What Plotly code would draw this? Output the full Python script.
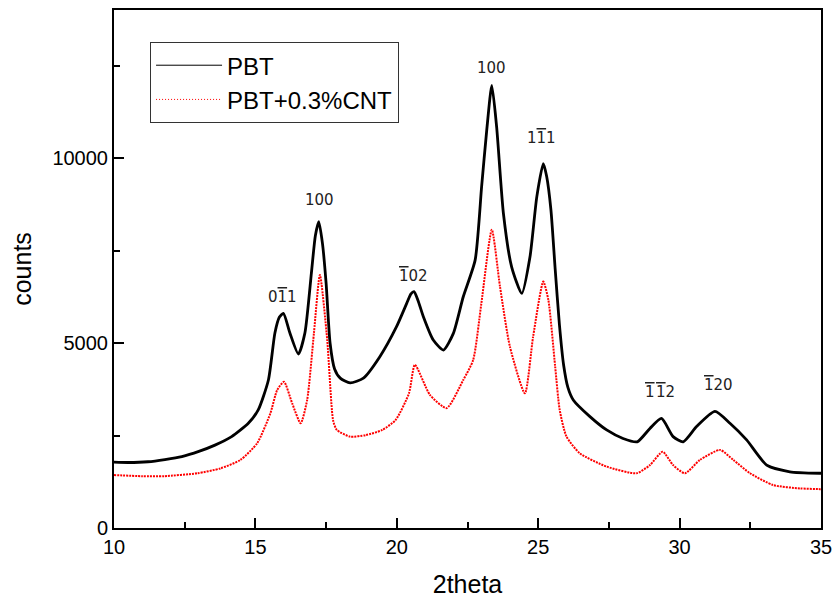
import plotly.graph_objects as go

# X-ray diffraction scans (2theta in degrees, intensity in counts)
pbt_2theta = [10.0, 10.5, 11.2, 11.8, 12.4, 13.0, 13.57, 14.16, 14.75, 15.1, 15.46, 15.69,
              15.85, 15.99, 16.22, 16.52, 16.75, 16.98, 17.12, 17.24, 17.37, 17.5, 17.64,
              17.8, 18.0, 18.35, 18.82, 19.4, 19.99, 20.35, 20.5, 20.61, 20.75, 20.94,
              21.29, 21.65, 22.0, 22.35, 22.77, 23.0, 23.18, 23.36, 23.53, 23.77, 24.06,
              24.42, 24.71, 24.95, 25.18, 25.3, 25.45, 25.6, 25.75, 25.9, 26.05, 26.24,
              26.83, 27.42, 28.0, 28.5, 28.95, 29.36, 29.77, 30.13, 30.6, 31.25, 31.78,
              32.37, 33.08, 33.9, 34.96, 35.0]
pbt_counts = [1780, 1770, 1790, 1850, 1930, 2070, 2240, 2470, 2830, 3190, 4000, 5270,
              5700, 5800, 5270, 4700, 5270, 6890, 7900, 8280, 7700, 6620, 5000,
              4300, 4050, 3920, 4050, 4630, 5440, 6070, 6330, 6390, 6150, 5710,
              5080, 4810, 5260, 6250, 7240, 9230, 10750, 11960, 10840, 8500, 7060,
              6340, 7330, 8950, 9850, 9500, 8600, 7000, 5500, 4400, 3800, 3460,
              3010, 2650, 2420, 2330, 2690, 2960, 2470, 2330, 2740, 3150, 2830,
              2380, 1700, 1520, 1480, 1480]

cnt_2theta = [10.0, 11.0, 11.77, 12.95, 13.76, 14.47, 15.06, 15.53, 15.77, 16.01, 16.3,
              16.6, 16.83, 17.07, 17.28, 17.54, 17.75, 17.88, 18.35, 18.9, 19.49, 19.96,
              20.43, 20.64, 21.17, 21.76, 22.35, 22.7, 22.99, 23.36, 23.65, 24.0, 24.53,
              24.82, 25.18, 25.36, 25.6, 25.76, 26.0, 26.47, 27.42, 28.48, 28.95, 29.4,
              29.77, 30.19, 30.72, 31.43, 31.9, 32.49, 33.31, 34.26, 34.96, 35.0]
cnt_counts = [1430, 1400, 1400, 1480, 1610, 1840, 2290, 3100, 3730, 3950, 3370,
              2830, 3460, 5270, 6840, 5080, 2900, 2650, 2470, 2510, 2650, 2920,
              3640, 4410, 3600, 3240, 4000, 4540, 6070, 8060, 6520, 4900, 3640,
              5170, 6660, 6160, 4360, 3190, 2470, 2020, 1660, 1480, 1700, 2060,
              1700, 1480, 1840, 2110, 1840, 1480, 1160, 1070, 1050, 1050]

# Miller-index labels for the reflections; a barred index is drawn with an overline
OVER = "<span style='text-decoration:overline'>{}</span>"
peak_labels = ["0" + OVER.format("1") + "1", "100", OVER.format("1") + "02", "100",
               "1" + OVER.format("1") + "1",
               OVER.format("1") + "\u200a" + OVER.format("1") + "2",
               OVER.format("1") + "20"]
peak_label_x = [15.96, 17.27, 20.58, 23.36, 25.12, 29.31, 31.36]
peak_label_y = [6230, 8870, 6820, 12430, 10540, 3680, 3870]

series_names = ["PBT", "PBT+0.3%CNT"]
series_colors = ["black", "red"]

fig = go.Figure()
fig.add_trace(go.Scatter(
    x=pbt_2theta, y=pbt_counts, mode="lines", name=series_names[0], showlegend=False,
    line=dict(color=series_colors[0], width=2.8, shape="spline", smoothing=0.6),
))
fig.add_trace(go.Scatter(
    x=cnt_2theta, y=cnt_counts, mode="lines", name=series_names[1], showlegend=False,
    line=dict(color=series_colors[1], width=2, dash="2px,1px", shape="spline", smoothing=0.6),
))

# thin legend keys (the plotted traces are drawn heavier)
fig.add_trace(go.Scatter(x=[None], y=[None], mode="lines", name=series_names[0],
                         line=dict(color=series_colors[0], width=1)))
fig.add_trace(go.Scatter(x=[None], y=[None], mode="lines", name=series_names[1],
                         line=dict(color=series_colors[1], width=1, dash="1px,2px")))

for txt, px, py in zip(peak_labels, peak_label_x, peak_label_y):
    fig.add_annotation(x=px, y=py, text=txt, showarrow=False,
                       font=dict(family="DejaVu Sans", size=15, color="#222"))

axis_common = dict(
    showline=True, linecolor="black", linewidth=2, mirror=True,
    ticks="inside", ticklen=10, tickwidth=1.5, tickcolor="black",
    showgrid=False, zeroline=False, automargin=False,
    tickfont=dict(family="Liberation Sans", size=20, color="black"),
)

fig.update_xaxes(
    range=[10, 35], tick0=10, dtick=5,
    minor=dict(ticks="inside", ticklen=6, tickwidth=1.5, tickcolor="black", dtick=2.5),
    title=dict(text="2theta", font=dict(family="Liberation Sans", size=25, color="black"),
               standoff=18),
    **axis_common,
)
fig.update_yaxes(
    range=[0, 14000], tick0=0, dtick=5000, tickformat="d",
    minor=dict(ticks="inside", ticklen=6, tickwidth=1.5, tickcolor="black", dtick=2500),
    title=dict(text="counts", font=dict(family="Liberation Sans", size=25, color="black"),
               standoff=14),
    **axis_common,
)

fig.update_layout(
    width=833, height=601,
    margin=dict(l=114, r=12, t=10, b=73),
    plot_bgcolor="white", paper_bgcolor="white",
    legend=dict(
        x=0.051, y=0.938, xanchor="left", yanchor="top",
        bordercolor="#333", borderwidth=1, bgcolor="white",
        font=dict(family="Liberation Sans", size=24, color="black"),
        itemwidth=66, tracegroupgap=0,
    ),
)

fig.write_html("out.html")
